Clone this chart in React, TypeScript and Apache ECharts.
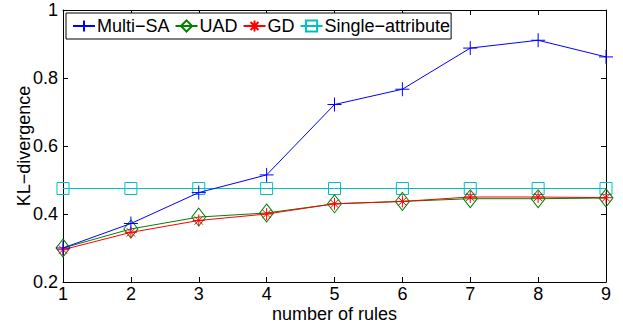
import React, { useEffect, useRef } from "react";
import * as echarts from "echarts";

const rules = [1, 2, 3, 4, 5, 6, 7, 8, 9];
const multiSA = [0.3, 0.372, 0.463, 0.515, 0.722, 0.767, 0.888, 0.911, 0.862];
const uad = [0.3, 0.356, 0.391, 0.403, 0.43, 0.437, 0.445, 0.445, 0.447];
const gd = [0.295, 0.346, 0.381, 0.4, 0.43, 0.437, 0.45, 0.45, 0.448];
const single = [0.475, 0.475, 0.475, 0.475, 0.475, 0.475, 0.475, 0.475, 0.475];

const seriesNames = ["Multi\u2212SA", "UAD", "GD", "Single\u2212attribute"];
const xName = "number of rules";
const yName = "KL\u2212divergence";

const PLUS = "path://M0,-1L0,1M-1,0L1,0";
const STAR = "path://M0,-1L0,1M-1,0L1,0M-0.7,-0.7L0.7,0.7M-0.7,0.7L0.7,-0.7";

const pair = (ys: number[]) => rules.map((x, i) => [x, ys[i]]);

export default function App() {
  const ref = useRef<HTMLDivElement>(null);
  useEffect(() => {
    if (!ref.current) return;
    const chart = echarts.init(ref.current, undefined, { renderer: "svg" });
    const font = "Liberation Sans, Arial, Helvetica, sans-serif";
    const mk = (name: string, ys: number[], color: string, symbol: string, size: any, z: number) => ({
      name,
      type: "line",
      data: pair(ys),
      symbol,
      symbolSize: size,
      showAllSymbol: true,
      z,
      lineStyle: { color, width: 1 },
      itemStyle: { color: "rgba(0,0,0,0)", borderColor: color, borderWidth: 1 },
      emphasis: { disabled: true },
    });
    chart.setOption({
      animation: false,
      backgroundColor: "#fff",
      textStyle: { fontFamily: font },
      grid: { left: 63, right: 17, top: 10, bottom: 45, containLabel: false, outerBoundsMode: "none" },
      legend: {
        left: 66,
        top: 13,
        padding: [4, 1, 4, 6],
        itemWidth: 22,
        itemHeight: 14,
        itemGap: 5,
        borderColor: "#000",
        borderWidth: 1,
        backgroundColor: "#fff",
        textStyle: { fontSize: 18, color: "#000", fontFamily: font, padding: [0, 0, 0, -3] },
        data: seriesNames,
      },
      xAxis: [
        {
          type: "value",
          min: 1,
          max: 9,
          interval: 1,
          name: xName,
          nameLocation: "middle",
          nameGap: 24,
          nameMoveOverlap: false,
          nameTextStyle: { fontSize: 18, lineHeight: 16, color: "#000", fontFamily: font },
          axisLine: { lineStyle: { color: "#000", width: 1 } },
          axisTick: { inside: true, length: 5, lineStyle: { color: "#000" } },
          axisLabel: { fontSize: 18, lineHeight: 16, color: "#000", margin: 4, fontFamily: font },
          splitLine: { show: false },
        },
        {
          type: "value",
          position: "top",
          min: 1,
          max: 9,
          interval: 1,
          axisLine: { lineStyle: { color: "#000", width: 1 } },
          axisTick: { inside: true, length: 5, lineStyle: { color: "#000" } },
          axisLabel: { show: false },
          splitLine: { show: false },
        },
      ],
      yAxis: [
        {
          type: "value",
          min: 0.2,
          max: 1,
          interval: 0.2,
          name: yName,
          nameLocation: "middle",
          nameGap: 30,
          nameMoveOverlap: false,
          nameTextStyle: { fontSize: 18, color: "#000", fontFamily: font },
          axisLine: { show: true, lineStyle: { color: "#000", width: 1 } },
          axisTick: { show: true, inside: true, length: 5, lineStyle: { color: "#000" } },
          axisLabel: { fontSize: 18, color: "#000", margin: 5, fontFamily: font },
          splitLine: { show: false },
        },
        {
          type: "value",
          position: "right",
          min: 0.2,
          max: 1,
          interval: 0.2,
          axisLine: { show: true, lineStyle: { color: "#000", width: 1 } },
          axisTick: { show: true, inside: true, length: 5, lineStyle: { color: "#000" } },
          axisLabel: { show: false },
          splitLine: { show: false },
        },
      ],
      series: [
        mk(seriesNames[0], multiSA, "#0000ff", PLUS, 14, 4),
        mk(seriesNames[1], uad, "#008000", "diamond", [14, 18], 2),
        mk(seriesNames[2], gd, "#ff0000", STAR, 12, 3),
        mk(seriesNames[3], single, "#00bfbf", "rect", 12, 1),
      ],
    });
    return () => chart.dispose();
  }, []);
  return <div ref={ref} style={{ width: 623, height: 327, position: "absolute", left: 0, top: 0 }} />;
}
